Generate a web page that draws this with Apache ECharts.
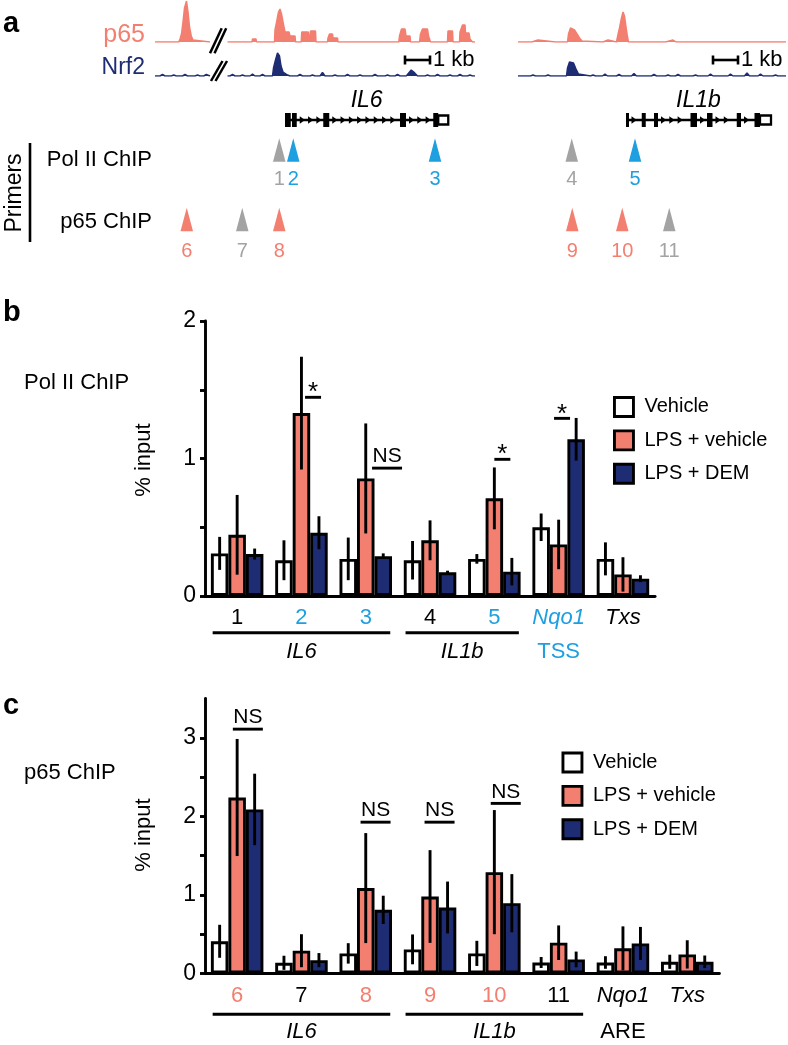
<!DOCTYPE html>
<html><head><meta charset="utf-8">
<script src="https://cdn.jsdelivr.net/npm/echarts@6/dist/echarts.min.js"></script>
<style>html,body{margin:0;padding:0;background:#fff}#c{width:788px;height:1045px}</style>
</head><body><div id="c"></div>
<script>
// ================= DATA =================
const seriesNames = ['Vehicle', 'LPS + vehicle', 'LPS + DEM'];

// Panel b : Pol II ChIP (% input)
const catsB   = ['1', '2', '3', '4', '5', 'Nqo1\nTSS', 'Txs'];
const vehB    = [0.31, 0.26, 0.27, 0.26, 0.27, 0.50, 0.27];
const vehErrB = [0.12, 0.145, 0.155, 0.14, 0.035, 0.10, 0.12];
const lpsB    = [0.445, 1.33, 0.855, 0.405, 0.71, 0.375, 0.157];
const lpsErrB = [0.29, 0.41, 0.40, 0.145, 0.225, 0.18, 0.125];
const demB    = [0.305, 0.46, 0.29, 0.172, 0.177, 1.14, 0.126];
const demErrB = [0.04, 0.12, 0.02, 0.012, 0.10, 0.155, 0.025];
const groupsB = [{name: 'IL6', from: 0, to: 2}, {name: 'IL1b', from: 3, to: 4}];
const sigB    = [{cat: 1, y: 1.445, text: '*'}, {cat: 2, y: 0.93, text: 'NS'}, {cat: 4, y: 0.994, text: '*'}, {cat: 5, y: 1.292, text: '*'}];
const ticksB  = [0, 0.5, 1, 1.5, 2];
const cyanLabelsB = ['2', '3', '5'];

// Panel c : p65 ChIP (% input)
const catsC   = ['6', '7', '8', '9', '10', '11', 'Nqo1\nARE', 'Txs'];
const vehC    = [0.41, 0.136, 0.256, 0.307, 0.256, 0.14, 0.14, 0.149];
const vehErrC = [0.21, 0.09, 0.13, 0.19, 0.16, 0.07, 0.08, 0.09];
const lpsC    = [2.24, 0.29, 1.087, 0.98, 1.29, 0.392, 0.32, 0.243];
const lpsErrC = [0.745, 0.21, 0.70, 0.59, 0.79, 0.22, 0.28, 0.18];
const demC    = [2.088, 0.17, 0.81, 0.84, 0.895, 0.179, 0.383, 0.149];
const demErrC = [0.455, 0.09, 0.18, 0.33, 0.37, 0.10, 0.21, 0.08];
const groupsC = [{name: 'IL6', from: 0, to: 2}, {name: 'IL1b', from: 3, to: 5}];
const sigC    = [{cat: 0, y: 3.11, text: 'NS'}, {cat: 2, y: 1.926, text: 'NS'}, {cat: 3, y: 1.926, text: 'NS'}, {cat: 4, y: 2.165, text: 'NS'}];
const ticksC  = [0, 0.5, 1, 1.5, 2, 2.5, 3];
const salmonLabelsC = ['6', '8', '9', '10'];

// Panel a : ChIP-seq tracks (x in kb, y = signal)
const lociSpanKb = [12.8, 10.72];
const p65Left = [[0,0],[0.95,0],[1.0,3],[1.06,8],[1.12,20],[1.18,34],[1.26,41],[1.32,30],[1.38,15],[1.45,6],[1.52,2],[1.58,0],[2.2,0],[2.55,'-'],[2.9,0],[3.88,0],[3.9,3],[4.04,3],[4.06,0],[4.78,0],[4.8,12],[4.88,22],[4.94,30],[5.0,33],[5.06,28],[5.12,20],[5.2,10],[5.36,10],[5.4,6],[5.6,6],[5.62,0],[5.85,0],[5.87,10],[6.13,10],[6.15,0],[6.2,0],[6.22,11],[6.42,11],[6.44,0],[6.9,0],[6.92,4],[6.98,8],[7.1,8],[7.12,4],[7.3,4],[7.32,0],[9.75,0],[9.78,6],[9.86,13],[10.0,13],[10.04,6],[10.2,6],[10.22,0],[10.58,0],[10.62,8],[10.7,13],[10.9,13],[10.94,6],[11.0,6],[11.02,0],[11.7,0],[11.72,11],[11.9,11],[11.92,0],[12.18,0],[12.2,10],[12.3,17],[12.4,17],[12.42,9],[12.56,9],[12.6,3],[12.7,0],[12.8,0]];
const nrf2Left = [[0,0],[0.2,0],[0.3,1.5],[0.4,0],[0.65,0],[0.75,1],[0.85,0],[1.1,0],[1.2,1.5],[1.3,0],[1.6,0],[1.7,1],[1.8,0],[1.95,0],[2.05,1.5],[2.2,0],[2.55,'-'],[2.9,0],[3.0,0],[3.1,1.5],[3.2,0],[3.4,0],[3.5,1],[3.6,0],[3.8,0],[3.9,2],[4.0,0],[4.2,0],[4.3,1.5],[4.4,0],[4.7,0],[4.74,8],[4.82,16],[4.9,23],[4.98,20],[5.04,10],[5.12,4],[5.3,1],[5.4,0],[5.7,0],[5.8,1.5],[5.9,0],[6.2,0],[6.3,1],[6.4,0],[6.6,0],[6.7,3.5],[6.8,0],[7.1,0],[7.2,1],[7.3,0],[7.6,0],[7.7,1.5],[7.8,0],[8.1,0],[8.2,1],[8.3,0],[8.7,0],[8.8,1.5],[8.9,0],[9.2,0],[9.3,1],[9.4,0],[9.6,0],[9.7,1.5],[9.8,0],[10.05,0],[10.25,6],[10.35,4],[10.5,0],[10.8,0],[10.9,1],[11.0,0],[11.2,0],[11.3,1.5],[11.4,0],[11.7,0],[11.8,1],[11.9,0],[12.1,0],[12.2,1.5],[12.3,0],[12.5,0],[12.6,1],[12.7,0],[12.8,0]];
const p65Right = [[0,0],[0.55,0],[0.6,2],[0.8,2],[0.85,0],[1.5,0],[1.56,1],[1.62,0],[1.98,0],[2.02,8],[2.1,14],[2.16,15],[2.26,12],[2.36,8],[2.46,4],[2.56,1],[2.6,0],[3.4,0],[3.45,2],[3.6,2],[3.65,0],[3.94,0],[3.98,5],[4.06,14],[4.14,24],[4.2,30],[4.26,26],[4.32,15],[4.38,5],[4.42,0],[5.1,0],[5.16,2],[5.22,0],[5.9,0],[5.96,2],[6.2,2],[6.24,0],[6.32,0],[6.36,1.5],[6.4,0],[6.84,0],[6.88,1.5],[6.92,0],[7.64,0],[7.68,1],[7.72,0],[8.04,0],[8.08,1],[8.12,0],[9.56,0],[9.6,1.5],[9.64,0],[10.72,0]];
const nrf2Right = [[0,0],[0.5,0],[0.6,1],[0.7,0],[1.1,0],[1.2,1],[1.3,0],[1.94,0],[1.98,8],[2.06,14],[2.14,16],[2.22,13],[2.32,7],[2.42,2],[2.5,0],[2.9,0],[3.0,1],[3.1,0],[3.38,0],[3.48,2],[3.58,0],[3.94,0],[4.04,1.5],[4.14,0],[4.54,0],[4.64,2.5],[4.74,0],[5.34,0],[5.44,1.5],[5.54,0],[5.9,0],[6.0,1],[6.1,0],[6.3,0],[6.4,1.5],[6.5,0],[7.0,0],[7.1,1],[7.2,0],[7.6,0],[7.7,2],[7.8,0],[8.4,0],[8.5,2],[8.6,0],[9.06,0],[9.16,3],[9.26,0],[9.6,0],[9.7,2],[9.8,0],[10.2,0],[10.3,1],[10.4,0],[10.72,0]];

const genes = [
  {name: 'IL6', locus: 0, start: 5.2, end: 11.73,
   exons: [[5.2,5.43],[5.48,5.67],[6.73,6.97],[9.8,10.04],[11.13,11.33]], utr: [11.33,11.73]},
  {name: 'IL1b', locus: 1, start: 4.32, end: 10.12,
   exons: [[4.32,4.42],[4.95,5.11],[5.44,5.6],[6.9,7.16],[7.56,7.78],[8.75,8.92],[9.46,9.68]], utr: [9.68,10.12]}
];
const primersPol = [{id:'1',locus:0,kb:4.97,kind:'ctrl'},{id:'2',locus:0,kb:5.53,kind:'pol'},{id:'3',locus:0,kb:11.2,kind:'pol'},{id:'4',locus:1,kb:2.15,kind:'ctrl'},{id:'5',locus:1,kb:4.68,kind:'pol'}];
const primersP65 = [{id:'6',locus:0,kb:1.27,kind:'p65'},{id:'7',locus:0,kb:3.49,kind:'ctrl'},{id:'8',locus:0,kb:4.97,kind:'p65'},{id:'9',locus:1,kb:2.17,kind:'p65'},{id:'10',locus:1,kb:4.17,kind:'p65'},{id:'11',locus:1,kb:6.05,kind:'ctrl'}];
const scaleBars = [{locus:0, from:10, to:11, text:'1 kb'}, {locus:1, from:7.8, to:8.8, text:'1 kb'}];

// ================= STYLE / LAYOUT =================
const FONT = "'Liberation Sans', Arial, Helvetica, sans-serif";
const COL = {salmon:'#F37F70', navy:'#1E2D73', cyan:'#1E9FDF', gray:'#A3A3A3', black:'#000'};
const primerColor = {ctrl: COL.gray, pol: COL.cyan, p65: COL.salmon};
const BAR_W = 17.5;
const LW = 2.9;
const ROW = {scale: 10, gene: 70, pol: 100, p65: 169.5};
const LOCI = [{left:155, width:320}, {left:518, width:268}];
const sigDxB = [11.6, 21.3, 8, 3.4];
const sigDxC = [10.7, 9.8, 9.5, 11.4];

function txt(text, x, y, o) {
  o = o || {};
  return {type:'text', x:x, y:y, rotation:o.rotation||0, silent:true, style:{
    text:text, fill:o.color||'#000', fontSize:o.size||22, fontFamily:FONT,
    fontWeight:o.weight||'normal', fontStyle:o.style||'normal',
    textAlign:o.align||'left', align:o.align||'left', textVerticalAlign:'middle', verticalAlign:'middle'}};
}
function ln(x1,y1,x2,y2,w){return {type:'line',silent:true,shape:{x1,y1,x2,y2},style:{stroke:'#000',lineWidth:w||2.5}};}

function errRender(params, api) {
  const cat = api.value(0), v = api.value(1), e = api.value(2), k = api.value(3);
  const x = api.coord([cat, v])[0] + (k - 1) * BAR_W;
  const y1 = api.coord([cat, v + e])[1];
  const y2 = api.coord([cat, Math.max(0, v - e)])[1];
  return {type:'line', shape:{x1:x, y1:y1, x2:x, y2:y2}, style:{stroke:'#000', lineWidth:LW}};
}
function errData(vals) {
  const out = [];
  vals.forEach((pair, k) => pair[0].forEach((v, i) => out.push([i, v, pair[1][i], k])));
  return out;
}
function sigRender(list, dxs) {
  return function (params, api) {
    const s = list[params.dataIndex];
    const p = api.coord([s.cat, s.y]);
    const cx = p[0] + dxs[params.dataIndex];
    const star = s.text === '*';
    const hw = star ? 8 : 15;
    return {type:'group', children:[
      {type:'line', shape:{x1:cx-hw, y1:p[1], x2:cx+hw, y2:p[1]}, style:{stroke:'#000', lineWidth:LW}},
      {type:'text', style:{text:s.text, x:cx, y: star ? p[1]-4 : p[1]-11.5, textAlign:'center', align:'center',
        textVerticalAlign:'middle', verticalAlign:'middle', fontSize: star ? 26 : 21, fontFamily:FONT, fill:'#000'}}
    ]};
  };
}
function groupRender(list, lineOff, textOff) {
  return function (params, api) {
    const g = list[params.dataIndex];
    const a = api.coord([g.from, 0]), b = api.coord([g.to, 0]);
    const y = a[1];
    return {type:'group', children:[
      {type:'line', shape:{x1:a[0]-24.5, y1:y+lineOff, x2:b[0]+24.5, y2:y+lineOff}, style:{stroke:'#000', lineWidth:LW}},
      {type:'text', style:{text:g.name, x:(a[0]+b[0])/2, y:y+textOff, textAlign:'center', align:'center',
        textVerticalAlign:'middle', verticalAlign:'middle', fontSize:22, fontStyle:'italic', fontFamily:FONT, fill:'#000'}}
    ]};
  };
}
function geneRender(list) {
  return function (params, api) {
    const g = list[params.dataIndex];
    const X = kb => api.coord([kb, ROW.gene])[0];
    const y = api.coord([g.start, ROW.gene])[1];
    const ch = [];
    ch.push({type:'line', shape:{x1:X(g.start), y1:y, x2:X(g.end), y2:y}, style:{stroke:'#000', lineWidth:2.6}});
    const blocks = g.exons.concat([g.utr]);
    for (let i = 0; i < blocks.length - 1; i++) {
      const a = X(blocks[i][1]) + 6, b = X(blocks[i+1][0]) - 2.5;
      for (let p = a; p <= b; p += 8.3) {
        ch.push({type:'polygon', shape:{points:[[p-3, y-3.8],[p+2.2, y],[p-3, y+3.8]]}, style:{fill:'#000'}});
      }
    }
    g.exons.forEach(e => ch.push({type:'rect', shape:{x:X(e[0]), y:y-7, width:Math.max(X(e[1])-X(e[0]), 3), height:14}, style:{fill:'#000'}}));
    ch.push({type:'rect', shape:{x:X(g.utr[0]), y:y-4.5, width:X(g.utr[1])-X(g.utr[0]), height:9}, style:{fill:'#fff', stroke:'#000', lineWidth:2.3}});
    ch.push({type:'text', style:{text:g.name, x:(X(g.start)+X(g.end))/2, y:y-19, textAlign:'center', align:'center',
      textVerticalAlign:'middle', verticalAlign:'middle', fontSize:23, fontStyle:'italic', fontFamily:FONT, fill:'#000'}});
    return {type:'group', children:ch};
  };
}
function scaleRender(list) {
  return function (params, api) {
    const s = list[params.dataIndex];
    const a = api.coord([s.from, ROW.scale]), b = api.coord([s.to, ROW.scale]);
    const y = a[1];
    return {type:'group', children:[
      {type:'line', shape:{x1:a[0], y1:y, x2:b[0], y2:y}, style:{stroke:'#000', lineWidth:2.6}},
      {type:'line', shape:{x1:a[0], y1:y-4.5, x2:a[0], y2:y+4.5}, style:{stroke:'#000', lineWidth:2.6}},
      {type:'line', shape:{x1:b[0], y1:y-4.5, x2:b[0], y2:y+4.5}, style:{stroke:'#000', lineWidth:2.6}},
      {type:'text', style:{text:s.text, x:b[0]+3, y:y, textAlign:'left', align:'left', textVerticalAlign:'middle',
        verticalAlign:'middle', fontSize:22, fontFamily:FONT, fill:'#000'}}
    ]};
  };
}
function primerItems(locus) {
  const mk = (p, row, dist) => ({value:[p.kb, row], itemStyle:{color:primerColor[p.kind], opacity:1},
    label:{show:true, position:'bottom', distance:dist, formatter:p.id, color:primerColor[p.kind], opacity:1, fontSize:20, fontFamily:FONT}});
  return primersPol.filter(p => p.locus === locus).map(p => mk(p, ROW.pol, 8))
    .concat(primersP65.filter(p => p.locus === locus).map(p => mk(p, ROW.p65, 10)));
}

const richB = {
  k:{color:'#000', fontSize:22, fontFamily:FONT, lineHeight:34},
  c:{color:COL.cyan, fontSize:22, fontFamily:FONT, lineHeight:34},
  ci:{color:COL.cyan, fontSize:22, fontFamily:FONT, fontStyle:'italic', lineHeight:34},
  i:{color:'#000', fontSize:22, fontFamily:FONT, fontStyle:'italic', lineHeight:34}
};
const richC = {
  k:{color:'#000', fontSize:22, fontFamily:FONT, lineHeight:36},
  s:{color:COL.salmon, fontSize:22, fontFamily:FONT, lineHeight:36},
  i:{color:'#000', fontSize:22, fontFamily:FONT, fontStyle:'italic', lineHeight:36}
};
function fmtB(v) {
  if (v.indexOf('\n') >= 0) { const p = v.split('\n'); return '{ci|' + p[0] + '}\n{c|' + p[1] + '}'; }
  if (v === 'Txs') return '{i|Txs}';
  return cyanLabelsB.indexOf(v) >= 0 ? '{c|' + v + '}' : '{k|' + v + '}';
}
function fmtC(v) {
  if (v.indexOf('\n') >= 0) { const p = v.split('\n'); return '{i|' + p[0] + '}\n{k|' + p[1] + '}'; }
  if (v === 'Txs') return '{i|Txs}';
  return salmonLabelsC.indexOf(v) >= 0 ? '{s|' + v + '}' : '{k|' + v + '}';
}

const barStyles = [
  {color:'#fff', borderColor:'#000', borderWidth:LW},
  {color:COL.salmon, borderColor:'#000', borderWidth:LW},
  {color:COL.navy, borderColor:'#000', borderWidth:LW}
];
function barSeries(vals, xi) {
  return vals.map((d, k) => ({type:'bar', name:seriesNames[k], xAxisIndex:xi, yAxisIndex:xi, data:d,
    barWidth:BAR_W, barGap:'0%', itemStyle:barStyles[k], z:2, silent:true}));
}
function valueAxis(gi, max, ticks) {
  return {type:'value', gridIndex:gi, min:0, max:max, interval:0.5,
    axisLine:{show:true, lineStyle:{color:'#000', width:LW}},
    axisTick:{show:true, length:5, inside:false, customValues:ticks, lineStyle:{color:'#000', width:LW}},
    axisLabel:{margin:9, fontSize:23, fontFamily:FONT, color:'#000', formatter: v => (Math.abs(v - Math.round(v)) < 1e-9 ? String(Math.round(v)) : '')},
    splitLine:{show:false}};
}
function hiddenAxis(gi, min, max, inverse) {
  return {type:'value', gridIndex:gi, min:min, max:max, inverse:!!inverse, show:false, splitLine:{show:false}};
}

const grids = [
  {left:LOCI[0].left, width:LOCI[0].width, top:0, height:42},
  {left:LOCI[1].left, width:LOCI[1].width, top:0, height:42},
  {left:LOCI[0].left, width:LOCI[0].width, top:34, height:42},
  {left:LOCI[1].left, width:LOCI[1].width, top:34, height:42},
  {left:LOCI[0].left, width:LOCI[0].width, top:50, height:210},
  {left:LOCI[1].left, width:LOCI[1].width, top:50, height:210},
  {left:205, width:64.3 * catsB.length, top:321, height:275},
  {left:205, width:64.3 * catsC.length, top:698.5, height:275}
];

const xAxes = [
  hiddenAxis(0, 0, lociSpanKb[0]), hiddenAxis(1, 0, lociSpanKb[1]),
  hiddenAxis(2, 0, lociSpanKb[0]), hiddenAxis(3, 0, lociSpanKb[1]),
  hiddenAxis(4, 0, lociSpanKb[0]), hiddenAxis(5, 0, lociSpanKb[1]),
  {type:'category', gridIndex:6, data:catsB, axisLine:{lineStyle:{color:'#000', width:LW}}, axisTick:{show:false},
    axisLabel:{margin:5, interval:0, formatter:fmtB, rich:richB}},
  {type:'category', gridIndex:7, data:catsC, axisLine:{lineStyle:{color:'#000', width:LW}}, axisTick:{show:false},
    axisLabel:{margin:4, interval:0, formatter:fmtC, rich:richC}}
];
const yAxes = [
  hiddenAxis(0, 0, 42), hiddenAxis(1, 0, 42), hiddenAxis(2, 0, 42), hiddenAxis(3, 0, 42),
  hiddenAxis(4, 0, 210, true), hiddenAxis(5, 0, 210, true),
  valueAxis(6, 2, ticksB), valueAxis(7, 3.5, ticksC)
];

function track(data, gi, color) {
  return {type:'line', xAxisIndex:gi, yAxisIndex:gi, data:data, symbol:'none', silent:true, connectNulls:false,
    lineStyle:{color:color, width:1.5}, areaStyle:{color:color, opacity:1}};
}

const series = [
  track(p65Left, 0, COL.salmon), track(p65Right, 1, COL.salmon),
  track(nrf2Left, 2, COL.navy), track(nrf2Right, 3, COL.navy)
];
[0, 1].forEach(loc => {
  const gl = genes.filter(g => g.locus === loc);
  series.push({type:'custom', xAxisIndex:4+loc, yAxisIndex:4+loc, silent:true, renderItem:geneRender(gl),
    data: gl.map(g => [g.start, ROW.gene])});
  const sl = scaleBars.filter(s => s.locus === loc);
  series.push({type:'custom', xAxisIndex:4+loc, yAxisIndex:4+loc, silent:true, renderItem:scaleRender(sl),
    data: sl.map(s => [s.from, ROW.scale])});
  series.push({type:'scatter', xAxisIndex:4+loc, yAxisIndex:4+loc, silent:true, symbol:'triangle',
    symbolSize:[12.5, 23.5], itemStyle:{opacity:1}, data: primerItems(loc)});
});

barSeries([vehB, lpsB, demB], 6).forEach(s => series.push(s));
series.push({type:'custom', xAxisIndex:6, yAxisIndex:6, z:5, silent:true, renderItem:errRender, encode:{x:0, y:1},
  data: errData([[vehB, vehErrB], [lpsB, lpsErrB], [demB, demErrB]])});
series.push({type:'custom', xAxisIndex:6, yAxisIndex:6, z:5, silent:true, renderItem:sigRender(sigB, sigDxB), encode:{x:0, y:1},
  data: sigB.map(s => [s.cat, s.y])});
series.push({type:'custom', xAxisIndex:6, yAxisIndex:6, z:5, silent:true, renderItem:groupRender(groupsB, 36.7, 55.7), encode:{x:[0,1], y:2},
  data: groupsB.map(g => [g.from, g.to, 0])});

barSeries([vehC, lpsC, demC], 7).forEach(s => series.push(s));
series.push({type:'custom', xAxisIndex:7, yAxisIndex:7, z:5, silent:true, renderItem:errRender, encode:{x:0, y:1},
  data: errData([[vehC, vehErrC], [lpsC, lpsErrC], [demC, demErrC]])});
series.push({type:'custom', xAxisIndex:7, yAxisIndex:7, z:5, silent:true, renderItem:sigRender(sigC, sigDxC), encode:{x:0, y:1},
  data: sigC.map(s => [s.cat, s.y])});
series.push({type:'custom', xAxisIndex:7, yAxisIndex:7, z:5, silent:true, renderItem:groupRender(groupsC, 40.7, 58.4), encode:{x:[0,1], y:2},
  data: groupsC.map(g => [g.from, g.to, 0])});

function legend(left, top) {
  return {data:seriesNames, orient:'vertical', left:left, top:top, padding:0, icon:'rect',
    itemWidth:19, itemHeight:19, itemGap:11.5, selectedMode:false,
    itemStyle:{borderColor:'#000', borderWidth:LW},
    textStyle:{fontSize:20, fontFamily:FONT, color:'#000', padding:[0,0,0,6]}};
}

const graphic = [
  txt('a', 3, 24, {size:29, weight:'bold'}),
  txt('b', 3, 313, {size:29, weight:'bold'}),
  txt('c', 3, 706, {size:29, weight:'bold'}),
  txt('p65', 145, 35, {size:25, align:'right', color:COL.salmon}),
  txt('Nrf2', 145, 68, {size:23, align:'right', color:COL.navy}),
  ln(210, 53.3, 221.7, 28.3), ln(214.5, 53.3, 226.2, 28.3),
  ln(211, 81, 222.5, 61), ln(215.5, 81, 227, 61),
  txt('Primers', 14.6, 193, {size:23, rotation:Math.PI/2, align:'center'}),
  ln(30, 143, 30, 242, 2.6),
  txt('Pol II ChIP', 152, 160, {size:22, align:'right'}),
  txt('p65 ChIP', 152, 222, {size:22, align:'right'}),
  txt('Pol II ChIP', 24, 383, {size:22}),
  txt('p65 ChIP', 24, 773, {size:22}),
  txt('% input', 144, 460, {size:22, rotation:Math.PI/2, align:'center'}),
  txt('% input', 144, 835, {size:22, rotation:Math.PI/2, align:'center'})
];

const chart = echarts.init(document.getElementById('c'), null, {renderer:'canvas'});
chart.setOption({
  animation:false,
  backgroundColor:'#fff',
  textStyle:{fontFamily:FONT},
  grid:grids, xAxis:xAxes, yAxis:yAxes,
  legend:[legend(613, 396), legend(561.5, 751.5)],
  graphic:graphic,
  series:series
});
</script>
</body></html>
